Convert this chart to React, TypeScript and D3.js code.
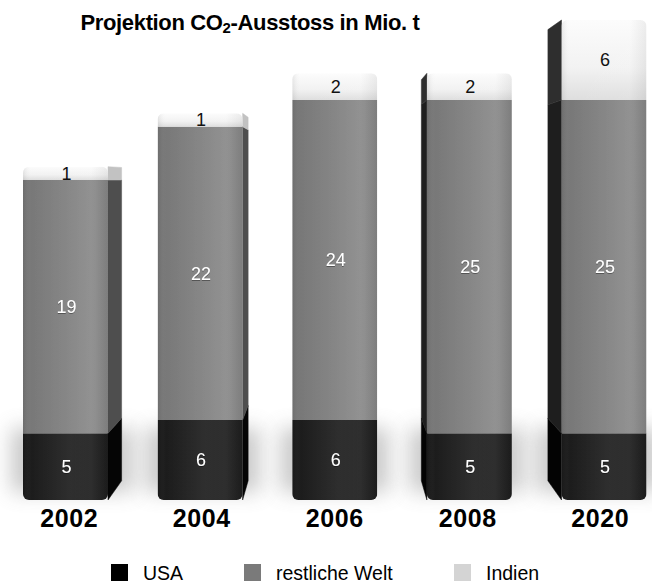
import React, { useEffect } from "react";
import * as d3 from "d3";

// Projected CO2 emissions, stacked per year (Mio. t)
const years = ["2002", "2004", "2006", "2008", "2020"];
const usa = [5, 6, 6, 5, 5];
const restWelt = [19, 22, 24, 25, 25];
const indien = [1, 1, 2, 2, 6];
const seriesKeys = ["usa", "rest", "indien"];
const seriesLabels = ["USA", "restliche Welt", "Indien"];
const legendColors = ["#000000", "#7a7a7a", "#d4d4d4"];

const W = 652;
const H = 583;
const BAR_W = 85;
const VP = { x: 334.75, y: 180 }; // vanishing point of the perspective
const DEPTH = 0.94; // scale of the back face towards the vanishing point
const FONT = "'Liberation Sans', Arial, Helvetica, sans-serif";

const sideFill: Record<string, { right: string; left: string }> = {
  usa: { right: "#050505", left: "#030303" },
  rest: { right: "#4e4e4e", left: "#1e1e1e" },
  indien: { right: "#c2c2c2", left: "#2e2e2e" },
};
const labelFill: Record<string, string> = { usa: "#ffffff", rest: "#ffffff", indien: "#111111" };

const px = (v: number) => VP.x + (v - VP.x) * DEPTH;
const py = (v: number) => VP.y + (v - VP.y) * DEPTH;

export default function App() {
  useEffect(() => {
    document.body.style.margin = "0";
  }, []);

  const rows = years.map((year, i) => ({ year, usa: usa[i], rest: restWelt[i], indien: indien[i] }));
  const stacked = d3.stack<any>().keys(seriesKeys)(rows);

  const x = d3.scalePoint<string>().domain(years).range([65.5, 604]);
  const y = d3.scaleLinear().domain([0, 36]).range([500, 20]);

  const bars = years.map((year, i) => {
    const cx = x(year) as number;
    const x0 = cx - BAR_W / 2;
    const x1 = cx + BAR_W / 2;
    let edge: number | null = null;
    let side: "right" | "left" | null = null;
    if (x1 < VP.x) {
      edge = x1;
      side = "right";
    } else if (x0 > VP.x) {
      edge = x0;
      side = "left";
    }
    const segs = stacked.map((s) => ({ key: s.key, v0: s[i][0], v1: s[i][1], value: s[i][1] - s[i][0] }));
    const top = y(segs[segs.length - 1].v1);
    const bottom = y(0);
    const backX = edge !== null ? px(edge) : cx;
    const extentC = side === "right" ? (x0 + backX) / 2 : side === "left" ? (backX + x1) / 2 : cx;
    return { year, i, cx, x0, x1, edge, side, segs, top, bottom, backX, labelX: cx + (extentC - cx) * 0.55 };
  });

  return (
    <svg width={W} height={H} viewBox={`0 0 ${W} ${H}`} style={{ display: "block", background: "#ffffff" }}>
      <defs>
        <filter id="haze" x="-40%" y="-80%" width="180%" height="260%">
          <feGaussianBlur stdDeviation="10" />
        </filter>
        <filter id="txtShadow" x="-20%" y="-20%" width="140%" height="140%">
          <feDropShadow dx="0" dy="0.6" stdDeviation="0.6" floodColor="#000" floodOpacity="0.6" />
        </filter>
        <linearGradient id="g-usa" x1="0" x2="1" y1="0" y2="0">
          <stop offset="0" stopColor="#1a1a1a" />
          <stop offset="0.55" stopColor="#262626" />
          <stop offset="1" stopColor="#1d1d1d" />
        </linearGradient>
        <linearGradient id="g-rest" x1="0" x2="1" y1="0" y2="0">
          <stop offset="0" stopColor="#767676" />
          <stop offset="0.5" stopColor="#828282" />
          <stop offset="0.85" stopColor="#8c8c8c" />
          <stop offset="1" stopColor="#858585" />
        </linearGradient>
        <linearGradient id="g-indien" x1="0" x2="0" y1="0" y2="1">
          <stop offset="0" stopColor="#fcfcfc" />
          <stop offset="0.6" stopColor="#f2f2f2" />
          <stop offset="1" stopColor="#dedede" />
        </linearGradient>
        <linearGradient id="sheen" x1="0" x2="1" y1="0" y2="0">
          <stop offset="0" stopColor="#000" stopOpacity="0.08" />
          <stop offset="0.1" stopColor="#fff" stopOpacity="0" />
          <stop offset="0.8" stopColor="#fff" stopOpacity="0.06" />
          <stop offset="1" stopColor="#000" stopOpacity="0.06" />
        </linearGradient>
        {bars.map((b) => (
          <clipPath id={`front-${b.year}`} key={b.year}>
            <rect x={b.x0} y={b.top} width={BAR_W} height={b.bottom - b.top} rx={6} ry={6} />
          </clipPath>
        ))}
      </defs>

      {/* title */}
      <text
        x={250}
        y={30}
        textAnchor="middle"
        fontFamily={FONT}
        fontWeight="bold"
        fontSize={22}
        letterSpacing={-0.35}
        fill="#000"
      >
        Projektion CO
        <tspan fontSize={15} dy={3}>2</tspan>
        <tspan dy={-3}>-Ausstoss in Mio. t</tspan>
      </text>

      {/* soft shadow around the base of each column */}
      {bars.map((b) => {
        const lo = Math.min(b.x0, b.backX);
        const hi = Math.max(b.x1, b.backX);
        return (
          <rect
            key={`haze-${b.year}`}
            x={lo - 12}
            y={b.bottom - 72}
            width={hi - lo + 24}
            height={64}
            fill="#8a8a8a"
            opacity={0.45}
            filter="url(#haze)"
          />
        );
      })}

      {bars.map((b) => (
        <g key={b.year}>
          {/* side faces */}
          {b.edge !== null &&
            b.segs.map((s) => {
              const yt = y(s.v1);
              const yb = y(s.v0);
              const e = b.edge as number;
              const pts = [
                [e, yt],
                [px(e), py(yt)],
                [px(e), py(yb)],
                [e, yb],
              ];
              return (
                <polygon
                  key={`side-${s.key}`}
                  points={pts.map((p) => p.join(",")).join(" ")}
                  fill={sideFill[s.key][b.side as "right" | "left"]}
                  stroke={sideFill[s.key][b.side as "right" | "left"]}
                  strokeWidth={0.5}
                  strokeLinejoin="round"
                />
              );
            })}
          {/* front faces */}
          <g clipPath={`url(#front-${b.year})`}>
            {b.segs.map((s) => (
              <rect
                key={`front-${s.key}`}
                x={b.x0}
                y={y(s.v1)}
                width={BAR_W}
                height={y(s.v0) - y(s.v1)}
                fill={`url(#g-${s.key})`}
              />
            ))}
            <rect x={b.x0} y={b.top} width={BAR_W} height={b.bottom - b.top} fill="url(#sheen)" />
          </g>
          {/* value labels */}
          {b.segs.map((s) => (
            <text
              key={`lbl-${s.key}`}
              x={b.cx + 1}
              y={(y(s.v0) + y(s.v1)) / 2}
              dy="0.36em"
              textAnchor="middle"
              fontFamily={FONT}
              fontSize={18}
              fill={labelFill[s.key]}
              filter={s.key === "indien" ? undefined : "url(#txtShadow)"}
            >
              {s.value}
            </text>
          ))}
          {/* category label */}
          <text
            x={b.labelX}
            y={527}
            textAnchor="middle"
            fontFamily={FONT}
            fontWeight="bold"
            fontSize={25}
            letterSpacing={0.6}
            fill="#000"
          >
            {b.year}
          </text>
        </g>
      ))}

      {/* legend */}
      {seriesLabels.map((label, i) => {
        const lx = [111, 244, 454][i];
        return (
          <g key={label}>
            <rect x={lx} y={564} width={17} height={17} fill={legendColors[i]} />
            <text x={lx + 32} y={580} fontFamily={FONT} fontSize={19.5} fill="#000">
              {label}
            </text>
          </g>
        );
      })}
    </svg>
  );
}
